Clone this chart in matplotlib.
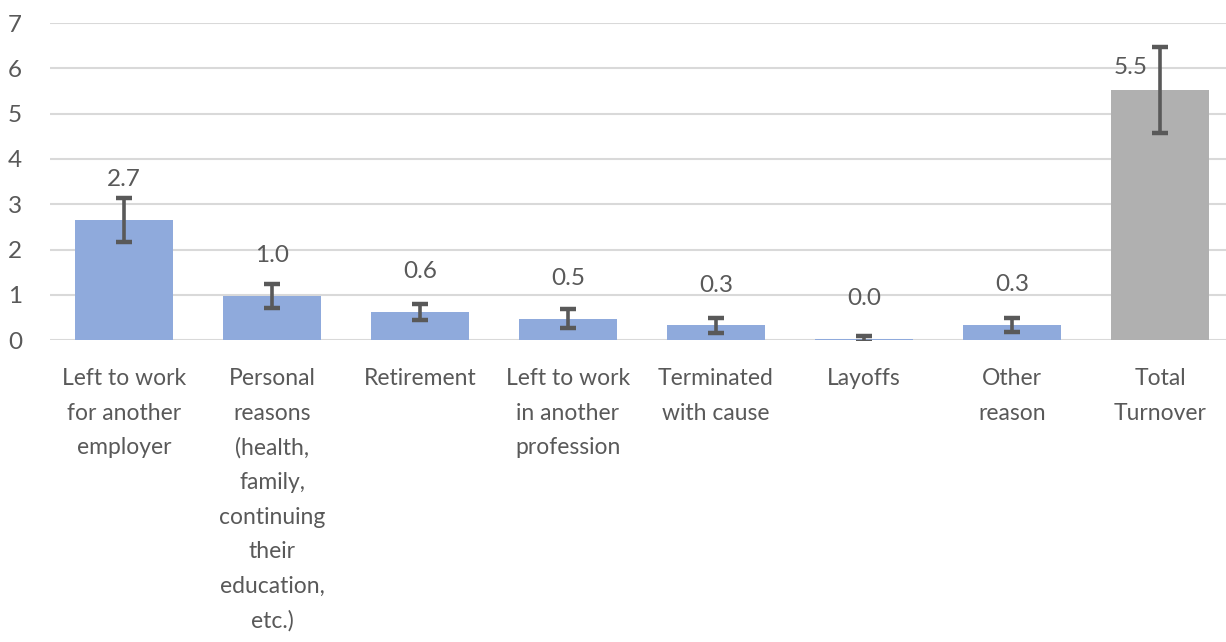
import matplotlib.pyplot as plt

# chart values
categories = ["Left to work\nfor another\nemployer",
              "Personal\nreasons\n(health,\nfamily,\ncontinuing\ntheir\neducation,\netc.)",
              "Retirement",
              "Left to work\nin another\nprofession",
              "Terminated\nwith cause",
              "Layoffs",
              "Other\nreason",
              "Total\nTurnover"]
values = [2.66, 0.98, 0.62, 0.48, 0.33, 0.03, 0.34, 5.52]
errors = [0.49, 0.27, 0.17, 0.21, 0.17, 0.07, 0.15, 0.95]
labels = ["2.7", "1.0", "0.6", "0.5", "0.3", "0.0", "0.3", "5.5"]

blue = "#8FAADC"
grey = "#B0B0B0"
textCol = "#595959"

plt.rcParams['font.family'] = ['Lato', 'DejaVu Sans']

fig = plt.figure(figsize=(12.26, 6.42), dpi=100)
ax = fig.add_axes([50 / 1226, 1 - 340.3 / 642, 1184 / 1226, 317.3 / 642])

x = list(range(len(values)))
colours = [blue] * (len(values) - 1) + [grey]
ax.bar(x, values, width=0.667, color=colours, zorder=2)
ax.errorbar(x, values, yerr=errors, fmt="none", ecolor="#595959",
            elinewidth=2.6, capsize=5.5, capthick=3.2, zorder=3)

# data labels above the bars
for i in x:
    dx, dy = 0, 29
    if i == len(values) - 1:
        dx, dy = -21, 16
    ax.annotate(labels[i], (i, values[i]), xytext=(dx, dy), textcoords="offset points",
                ha="center", va="center", fontsize=17.5, color=textCol)

ax.set_xlim(-0.5, 7.5)
ax.set_ylim(0, 7)
ax.set_yticks(range(8))
ax.set_xticks(x)
ax.set_xticklabels(categories, fontsize=16.5, color=textCol, linespacing=1.79, va="top")
ax.tick_params(axis="y", labelsize=17.5, labelcolor=textCol, length=0, pad=20)
ax.tick_params(axis="x", length=0, pad=20)
ax.yaxis.grid(True, color="#D9D9D9", linewidth=1.5, zorder=0)
ax.set_axisbelow(True)
for s in ax.spines.values():
    s.set_visible(False)

fig.savefig("out.png", dpi=100)
